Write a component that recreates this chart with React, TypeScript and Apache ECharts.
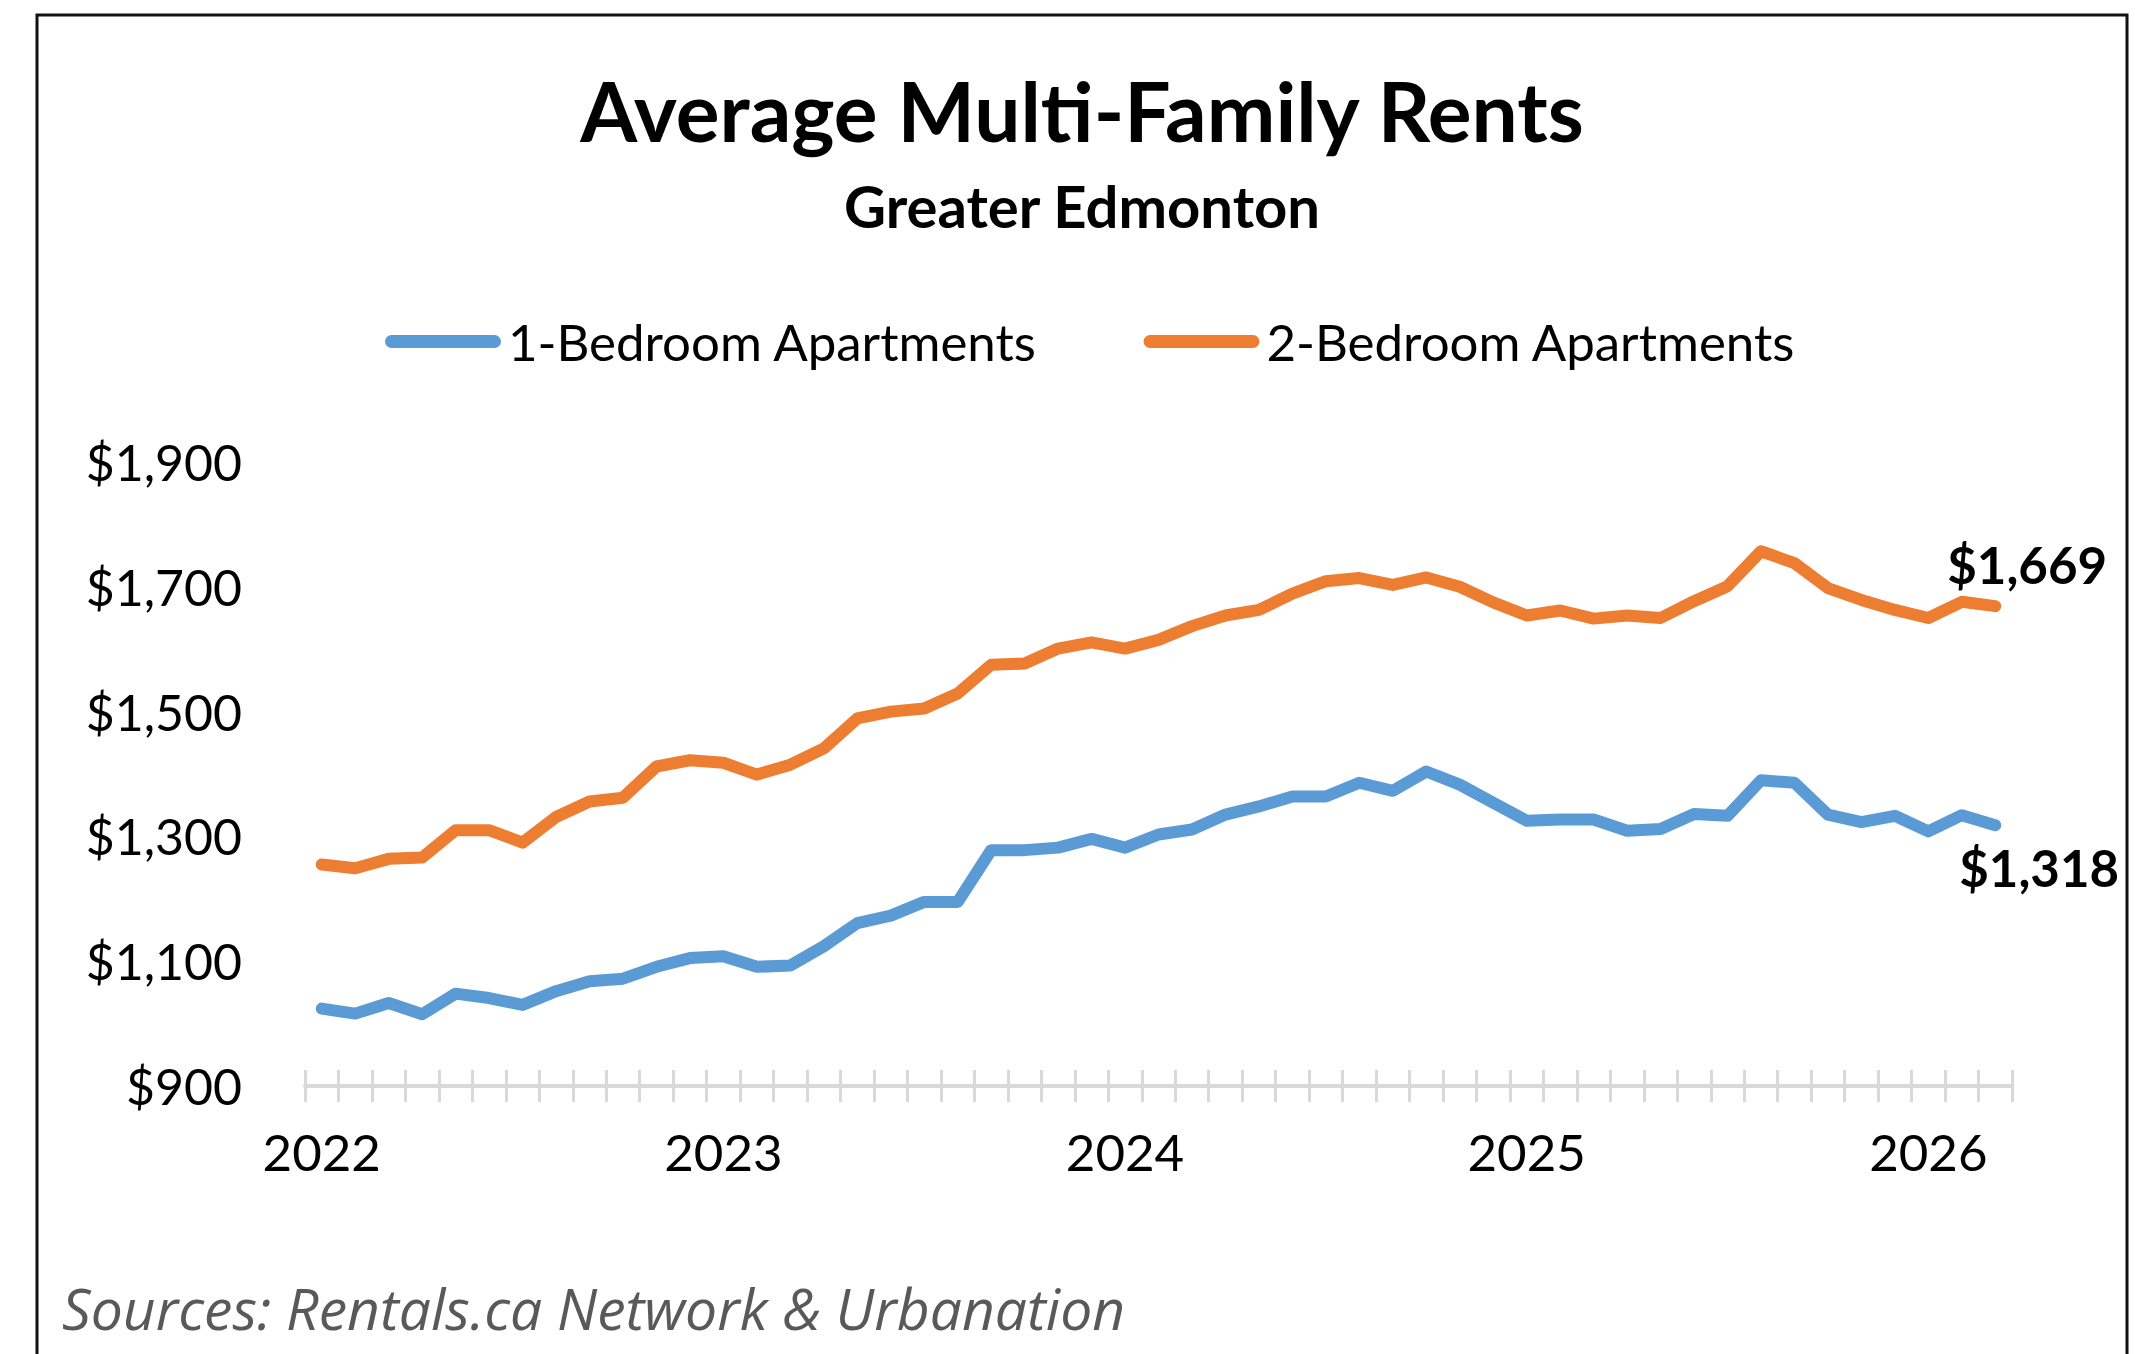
import React, { useEffect, useRef } from "react";
import * as echarts from "echarts";

const months: string[] = [
  "2022-01","2022-02","2022-03","2022-04","2022-05","2022-06","2022-07","2022-08","2022-09","2022-10","2022-11","2022-12",
  "2023-01","2023-02","2023-03","2023-04","2023-05","2023-06","2023-07","2023-08","2023-09","2023-10","2023-11","2023-12",
  "2024-01","2024-02","2024-03","2024-04","2024-05","2024-06","2024-07","2024-08","2024-09","2024-10","2024-11","2024-12",
  "2025-01","2025-02","2025-03","2025-04","2025-05","2025-06","2025-07","2025-08","2025-09","2025-10","2025-11","2025-12",
  "2026-01","2026-02","2026-03",
];

const oneBedroom: number[] = [
  1024, 1016, 1033, 1015, 1048, 1041, 1030, 1052, 1068, 1072, 1091, 1105,
  1108, 1091, 1093, 1124, 1161, 1173, 1195, 1195, 1278, 1278, 1282, 1296,
  1282, 1303, 1311, 1335, 1348, 1364, 1364, 1386, 1373, 1404, 1383, 1354,
  1325, 1327, 1327, 1309, 1312, 1336, 1333, 1390, 1386, 1335, 1323, 1333,
  1308, 1334, 1318,
];

const twoBedroom: number[] = [
  1255, 1249, 1264, 1266, 1310, 1310, 1290, 1331, 1356, 1362, 1412, 1422,
  1418, 1399, 1415, 1441, 1489, 1500, 1505, 1529, 1575, 1577, 1601, 1611,
  1601, 1615, 1637, 1654, 1663, 1689, 1709, 1714, 1703, 1715, 1700, 1675,
  1654, 1662, 1649, 1654, 1650, 1677, 1701, 1757, 1738, 1698, 1679, 1663,
  1650, 1676, 1669,
];

const yTicks = { min: 900, max: 1900, interval: 200 };

const FONT = "Lato";
const BLUE = "#5B9BD5";
const ORANGE = "#ED7D31";

const fmtMoney = (v: number) => "$" + v.toLocaleString("en-US");

const capsule =
  "path://M6.5,0 L109.5,0 A6.5,6.5 0 0 1 109.5,13 L6.5,13 A6.5,6.5 0 0 1 6.5,0 Z";

export default function App() {
  const ref = useRef<HTMLDivElement>(null);

  useEffect(() => {
    if (!ref.current) return;
    const chart = echarts.init(ref.current, undefined, { renderer: "svg" });
    const option: any = {
      animation: false,
      backgroundColor: "#ffffff",
      title: [
        {
          text: "Average Multi-Family Rents",
          left: 1082,
          textAlign: "center",
          top: 69,
          padding: 0,
          textStyle: { fontFamily: FONT, fontWeight: "bold", fontSize: 82, color: "#000" },
        },
        {
          text: "Greater Edmonton",
          left: 1082,
          textAlign: "center",
          top: 176,
          padding: 0,
          textStyle: { fontFamily: FONT, fontWeight: "bold", fontSize: 58, color: "#000" },
        },
        {
          text: "Sources: Rentals.ca Network & Urbanation",
          left: 62,
          top: 1279,
          padding: 0,
          textStyle: {
            fontFamily: "Open Sans",
            fontStyle: "italic",
            fontWeight: "normal",
            fontSize: 57,
            color: "#595959",
          },
        },
      ],
      legend: {
        left: 385,
        top: 316,
        padding: 0,
        itemWidth: 116,
        itemHeight: 13,
        itemGap: 106,
        icon: capsule,
        textStyle: { fontFamily: FONT, fontSize: 51, color: "#000", padding: [0, 0, 0, 2] },
        data: [
          { name: "1-Bedroom Apartments", itemStyle: { color: BLUE } },
          { name: "2-Bedroom Apartments", itemStyle: { color: ORANGE } },
        ],
      },
      graphic: [
        {
          type: "rect",
          silent: true,
          z: 100,
          shape: { x: 37, y: 15, width: 2090, height: 1400 },
          style: { fill: "none", stroke: "#111", lineWidth: 3 },
        },
      ],
      grid: { left: 305, right: 123, top: 462, bottom: 268, containLabel: false },
      xAxis: [
        {
          type: "category",
          data: months,
          boundaryGap: true,
          position: "bottom",
          axisLine: { show: true, lineStyle: { color: "#d9d9d9", width: 4 } },
          axisTick: { show: true, interval: 0, length: 16, lineStyle: { color: "#d9d9d9", width: 3 } },
          axisLabel: {
            interval: 11,
            margin: 40,
            fontFamily: FONT,
            fontSize: 51,
            color: "#000",
            formatter: (v: string) => v.slice(0, 4),
          },
          splitLine: { show: false },
        },
        {
          type: "category",
          data: months,
          boundaryGap: true,
          position: "bottom",
          axisLine: { show: false },
          axisTick: { show: true, inside: true, interval: 0, length: 16, lineStyle: { color: "#d9d9d9", width: 3 } },
          axisLabel: { show: false },
          splitLine: { show: false },
        },
      ],
      yAxis: {
        type: "value",
        min: yTicks.min,
        max: yTicks.max,
        interval: yTicks.interval,
        axisLine: { show: false },
        axisTick: { show: false },
        splitLine: { show: false },
        axisLabel: {
          margin: 63,
          fontFamily: FONT,
          fontSize: 50,
          color: "#000",
          formatter: (v: number) => fmtMoney(v),
        },
      },
      series: [
        {
          name: "1-Bedroom Apartments",
          type: "line",
          data: oneBedroom,
          showSymbol: false,
          symbol: "none",
          color: BLUE,
          lineStyle: { color: BLUE, width: 12, cap: "round", join: "round" },
          endLabel: {
            show: true,
            distance: 0,
            align: "left",
            verticalAlign: "middle",
            offset: [-36, 42],
            fontFamily: FONT,
            fontWeight: "bold",
            fontSize: 51,
            color: "#000",
            formatter: (p: any) => fmtMoney(p.value),
          },
        },
        {
          name: "2-Bedroom Apartments",
          type: "line",
          data: twoBedroom,
          showSymbol: false,
          symbol: "none",
          color: ORANGE,
          lineStyle: { color: ORANGE, width: 12, cap: "round", join: "round" },
          endLabel: {
            show: true,
            distance: 0,
            align: "left",
            verticalAlign: "middle",
            offset: [-48, -42],
            fontFamily: FONT,
            fontWeight: "bold",
            fontSize: 51,
            color: "#000",
            formatter: (p: any) => fmtMoney(p.value),
          },
        },
      ],
    };
    chart.setOption(option);
    return () => chart.dispose();
  }, []);

  return (
    <div
      ref={ref}
      style={{ position: "fixed", left: 0, top: 0, width: 2135, height: 1354, background: "#fff" }}
    />
  );
}
